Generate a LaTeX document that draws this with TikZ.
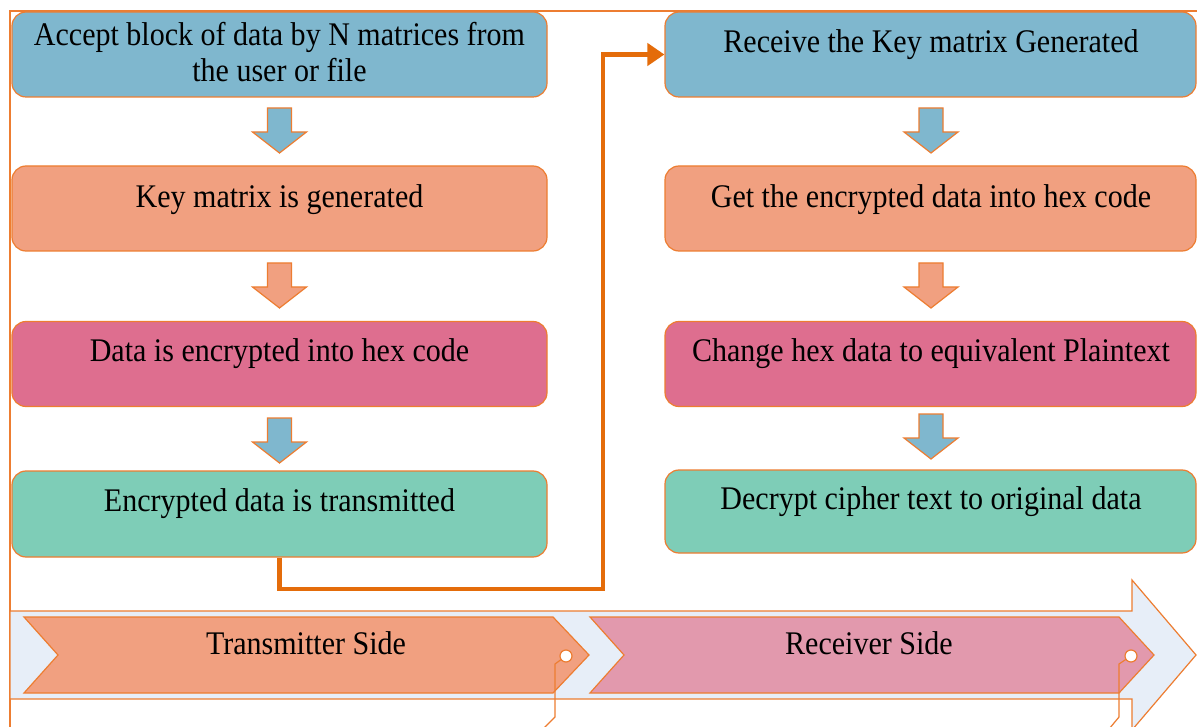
\documentclass[tikz,border=0pt]{standalone}
\usepackage{fontspec}
\setmainfont{Liberation Serif}[FakeStretch=0.91]
\usetikzlibrary{arrows.meta}
\definecolor{edge}{HTML}{ED7D31}
\definecolor{conn}{HTML}{E46C0A}
\definecolor{bluefill}{HTML}{7FB7CE}
\definecolor{salmonfill}{HTML}{F1A080}
\definecolor{pinkfill}{HTML}{DE6E8F}
\definecolor{tealfill}{HTML}{7ECDB7}
\definecolor{rosefill}{HTML}{E299AD}
\definecolor{bandfill}{HTML}{E7EEF8}
\begin{document}
\begin{tikzpicture}[x=1pt,y=-1pt,
  box/.style={draw=edge,line width=1.2pt,rounded corners=14pt,inner sep=0pt,minimum width=535pt,minimum height=85pt},
  rbox/.style={box,minimum width=531pt},
  txt/.style={font=\fontsize{33}{37}\selectfont,inner sep=0pt,anchor=base},
  connector/.style={draw=conn,line width=4.8pt,line join=miter,-{Triangle[length=17pt,width=22pt]}},
  chev/.style={draw=edge,line width=1.2pt},
  leader/.style={draw=edge,line width=1.2pt},
  pics/blockdown/.style={code={
    \filldraw[draw=edge,line width=1.2pt,fill=#1]
      (-12,0) -- (12,0) -- (12,24) -- (27,24) -- (0,45) -- (-27,24) -- (-12,24) -- cycle;}}
]
\useasboundingbox (0,0) rectangle (1197,727);
\clip (0,0) rectangle (1197,727);
\fill[white] (0,0) rectangle (1197,727);

% frame
\draw[edge,line width=1.2pt] (10,727) -- (10,11) -- (1197,11);

% left column
\node[box,fill=bluefill]   (L1) at (279.5,54.5) {};
\node[box,fill=salmonfill] (L2) at (279.5,208.5) {};
\node[box,fill=pinkfill]   (L3) at (279.5,364) {};
\node[box,fill=tealfill,minimum height=86pt] (L4) at (279.5,514) {};
\node[txt] (L1t) at (279.5,46) {Accept block of data by N matrices from};
\node[txt] (L1u) at (279.5,82) {the user or file};
\node[txt] (L2t) at (279.5,208) {Key matrix is generated};
\node[txt] (L3t) at (279.5,362) {Data is encrypted into hex code};
\node[txt] (L4t) at (279.5,511) {Encrypted data is transmitted};

% right column
\node[rbox,fill=bluefill]   (R1) at (930.5,54.5) {};
\node[rbox,fill=salmonfill] (R2) at (930.5,208.5) {};
\node[rbox,fill=pinkfill]   (R3) at (930.5,364) {};
\node[rbox,fill=tealfill,minimum height=83pt] (R4) at (930.5,511.5) {};
\node[txt] (R1t) at (931,53) {Receive the Key matrix Generated};
\node[txt] (R2t) at (931,208) {Get the encrypted data into hex code};
\node[txt] (R3t) at (931,362) {Change hex data to equivalent Plaintext};
\node[txt] (R4t) at (931,509) {Decrypt cipher text to original data};

% block arrows
\pic at (279.5,108) {blockdown=bluefill};
\pic at (279.5,263) {blockdown=salmonfill};
\pic at (279.5,418) {blockdown=bluefill};
\pic at (931,108) {blockdown=bluefill};
\pic at (931,263) {blockdown=salmonfill};
\pic at (931,414) {blockdown=bluefill};

% connector
\draw[connector] (L4.south) |- (603,589) |- (R1.west);

% bottom band
\filldraw[fill=bandfill,draw=edge,line width=1.2pt]
  (10,611) -- (1132,611) -- (1132,580) -- (1196,655) -- (1132,730) -- (1132,699) -- (10,699) -- cycle;
\filldraw[chev,fill=salmonfill] (24,617) -- (553,617) -- (589,655) -- (553,693) -- (24,693) -- (58,655) -- cycle;
\filldraw[chev,fill=rosefill] (590,617) -- (1119,617) -- (1154,655) -- (1119,693) -- (590,693) -- (624,655) -- cycle;
\node[txt] (TS) at (306,654) {Transmitter Side};
\node[txt] (RS) at (869,654) {Receiver Side};

% callout leaders
\coordinate (c1) at (566,656);
\coordinate (c2) at (1131,656);
\draw[leader] (c1) -- (555,664) -- (555,717) -- (543,729);
\draw[leader] (c2) -- (1119,664) -- (1119,717) -- (1109,729);
\filldraw[leader,fill=white] (c1) circle (6pt);
\filldraw[leader,fill=white] (c2) circle (6pt);
\end{tikzpicture}
\end{document}
